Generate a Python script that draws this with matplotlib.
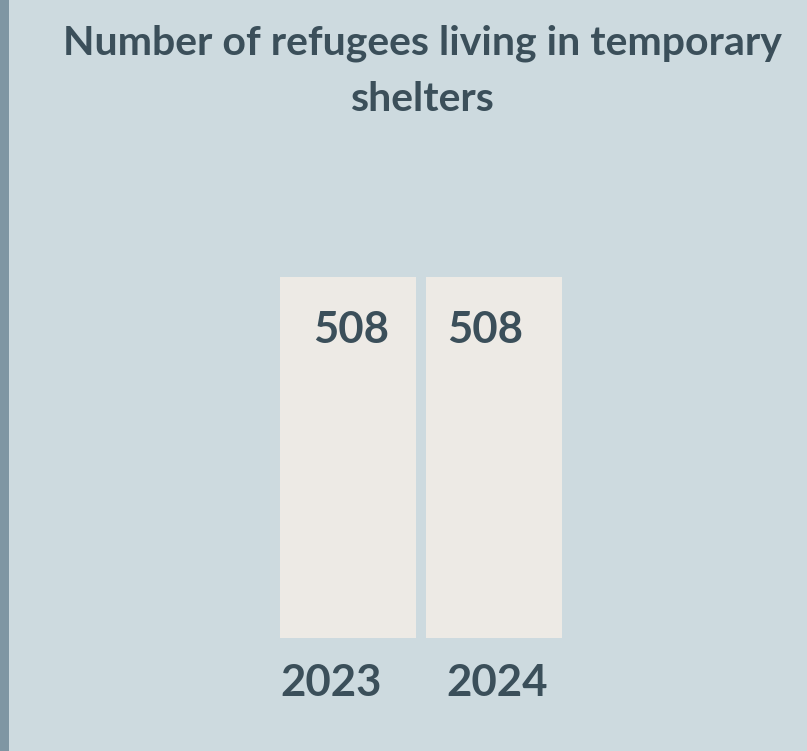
import matplotlib
matplotlib.use("Agg")
import matplotlib.pyplot as plt
from matplotlib.patches import Rectangle

years = ["2023", "2024"]
values = [508, 508]
value_labels = ["508", "508"]
title = "Number of refugees living in temporary\nshelters"

BG = "#CDDADF"
STRIP = "#7F96A3"
BAR = "#EDEAE5"
TXT = "#3B4F5A"

plt.rcParams['font.family'] = ['Lato', 'DejaVu Sans']

W, H = 807, 751
fig = plt.figure(figsize=(W / 100, H / 100), dpi=100)
fig.patch.set_facecolor(BG)
fig.patches.append(Rectangle((0, 0), 9 / W, 1, transform=fig.transFigure,
                             facecolor=STRIP, edgecolor='none', zorder=0))

ax = fig.add_axes([0, 0, 1, 1])
ax.set_facecolor('none')
x = list(range(len(years)))
step = 146.0
ax.bar(x, values, width=136 / step, color=BAR, edgecolor='none', align='center')

# map data -> pixels
ymax = max(values)
px_per_val = 361.0 / ymax
ax.set_xlim(-348 / step, (W - 348) / step)
ax.set_ylim(-113 / px_per_val, (H - 113) / px_per_val)
ax.axis('off')

val_off = [3.5, -8.5]
yr_off = [-17, 3]
for i, (v, lab, yr) in enumerate(zip(values, value_labels, years)):
    ax.annotate(lab, (x[i], v), xytext=(val_off[i], -53), textcoords='offset pixels',
                ha='center', va='center', fontsize=31.5, fontweight='bold', color=TXT)
    ax.annotate(yr, (x[i], 0), xytext=(yr_off[i], -45), textcoords='offset pixels',
                ha='center', va='center', fontsize=31.5, fontweight='bold', color=TXT)

fig.text(422.5 / W, 1 - 71 / H, title, ha='center', va='center', fontsize=29.5,
         fontweight='bold', color=TXT, linespacing=1.62)

fig.savefig("out.png", dpi=100, facecolor=BG)
